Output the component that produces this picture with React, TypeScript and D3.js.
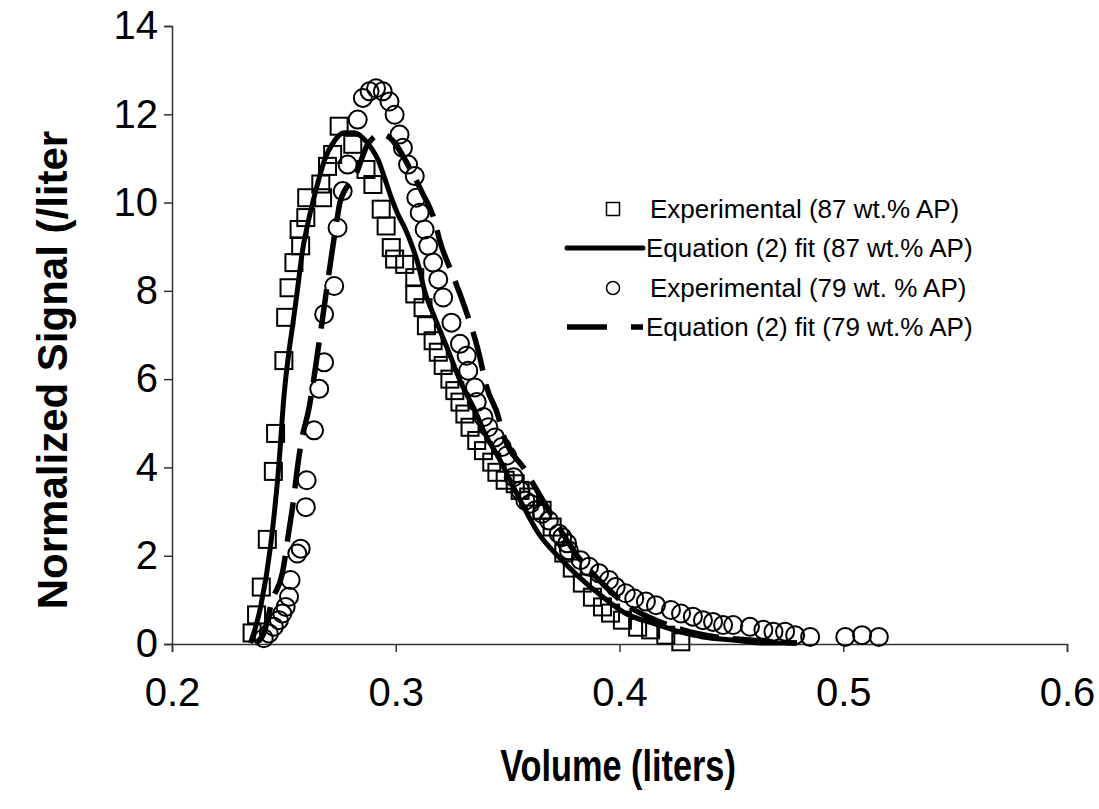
import React, { useEffect, useRef } from "react";
import * as d3 from "d3";

// Experimental (87 wt.% AP) - squares
const exp87: [number, number][] = [
  [0.2358, 0.25], [0.2378, 0.66], [0.2399, 1.29], [0.2426, 2.37], [0.2453, 3.91],
  [0.2463, 4.77], [0.25, 6.42], [0.2508, 7.4], [0.2523, 8.07], [0.2545, 8.64],
  [0.2568, 9.39], [0.2575, 9.02], [0.2598, 9.66], [0.2602, 10.11], [0.2665, 10.42],
  [0.2673, 10.11], [0.2695, 10.82], [0.2718, 11.09], [0.2747, 11.73], [0.2808, 11.32],
  [0.2867, 10.75], [0.2898, 10.41], [0.2935, 9.85], [0.2957, 9.47], [0.298, 8.98],
  [0.2995, 8.72], [0.304, 8.6], [0.3085, 8.3], [0.3085, 7.93], [0.3122, 7.62],
  [0.3137, 7.21], [0.3167, 6.87], [0.319, 6.61], [0.3212, 6.31], [0.3242, 6.0],
  [0.3264, 5.74], [0.3287, 5.48], [0.3309, 5.21], [0.3332, 4.91], [0.3362, 4.61],
  [0.3392, 4.38], [0.3429, 4.12], [0.3452, 3.89], [0.3489, 3.71], [0.3534, 3.63],
  [0.3556, 3.48], [0.3594, 3.33], [0.3654, 3.03], [0.3699, 2.65], [0.3751, 2.06],
  [0.3789, 1.72], [0.3834, 1.38], [0.3879, 1.06], [0.3924, 0.84], [0.396, 0.7],
  [0.4013, 0.54], [0.4081, 0.38], [0.4139, 0.32], [0.4207, 0.2], [0.4274, 0.05],
];

// Equation (2) fit (87 wt.% AP) - solid line
const fit87: [number, number][] = [
  [0.2351, 0.02], [0.2396, 0.84], [0.244, 2.2], [0.2478, 4.08], [0.25, 5.59],
  [0.2523, 6.64], [0.2538, 7.17], [0.256, 8.0], [0.2583, 8.9], [0.2613, 9.66],
  [0.265, 10.41], [0.268, 10.94], [0.2725, 11.39], [0.277, 11.58], [0.2815, 11.58],
  [0.286, 11.43], [0.289, 11.24], [0.292, 10.98], [0.295, 10.56], [0.298, 10.11],
  [0.301, 9.73], [0.304, 9.43], [0.307, 9.06], [0.31, 8.6], [0.3129, 8.0],
  [0.3174, 7.4], [0.3235, 6.64], [0.3294, 5.89], [0.3354, 5.29], [0.3399, 4.76],
  [0.3459, 4.23], [0.3511, 3.71], [0.3564, 3.18], [0.3639, 2.5], [0.3729, 1.97],
  [0.3819, 1.52], [0.3924, 1.07], [0.4028, 0.69], [0.4148, 0.47], [0.4268, 0.28],
  [0.4373, 0.16], [0.4508, 0.09], [0.4658, 0.02], [0.4793, 0.02],
];

// Experimental (79 wt. % AP) - circles
const exp79: [number, number][] = [
  [0.241, 0.13], [0.2433, 0.24], [0.2455, 0.39], [0.2478, 0.54], [0.2493, 0.69],
  [0.2508, 0.84], [0.2523, 1.07], [0.253, 1.45], [0.256, 2.05], [0.2575, 2.16],
  [0.2598, 3.1], [0.2602, 3.71], [0.2635, 4.84], [0.2658, 5.78], [0.268, 6.38],
  [0.268, 7.47], [0.2725, 8.11], [0.274, 9.43], [0.2763, 10.26], [0.2785, 10.86],
  [0.283, 11.88], [0.2853, 12.37], [0.2883, 12.52], [0.2912, 12.59], [0.2942, 12.52],
  [0.2972, 12.29], [0.2995, 11.99], [0.3017, 11.54], [0.3032, 11.24], [0.3055, 10.86],
  [0.3085, 10.6], [0.3092, 10.11], [0.3107, 9.77], [0.3129, 9.39], [0.3145, 9.02],
  [0.3167, 8.64], [0.319, 8.26], [0.3212, 7.85], [0.3249, 7.28], [0.3287, 6.8],
  [0.3317, 6.53], [0.3324, 6.19], [0.3354, 5.81], [0.3362, 5.48], [0.3392, 5.14],
  [0.3414, 4.91], [0.3444, 4.68], [0.3474, 4.46], [0.3497, 4.27], [0.3527, 3.78],
  [0.3557, 3.48], [0.3579, 3.25], [0.3601, 3.18], [0.3624, 3.03], [0.3654, 2.95],
  [0.3684, 2.8], [0.3729, 2.5], [0.3744, 2.42], [0.3766, 2.28], [0.3774, 2.12],
  [0.3826, 1.9], [0.3864, 1.75], [0.3909, 1.6], [0.3953, 1.45], [0.3983, 1.29],
  [0.4028, 1.15], [0.4066, 1.03], [0.4118, 0.96], [0.4163, 0.88], [0.423, 0.77],
  [0.4275, 0.69], [0.4328, 0.62], [0.4373, 0.54], [0.4418, 0.5], [0.4463, 0.43],
  [0.4508, 0.43], [0.4583, 0.39], [0.4643, 0.32], [0.4688, 0.28], [0.474, 0.28],
  [0.4785, 0.2], [0.4852, 0.16], [0.5009, 0.16], [0.5084, 0.2], [0.5159, 0.16],
];

// Equation (2) fit (79 wt.% AP) - dashed line
const fit79: [number, number][] = [
  [0.2373, 0.02], [0.241, 0.24], [0.2448, 0.99], [0.2493, 1.6], [0.2523, 2.58],
  [0.2538, 3.07], [0.256, 3.97], [0.2575, 4.5], [0.2613, 5.36], [0.2665, 7.1],
  [0.2733, 9.47], [0.2752, 10.03], [0.2822, 10.64], [0.2875, 11.32], [0.2935, 11.55],
  [0.2965, 11.5], [0.307, 10.71], [0.3115, 10.26], [0.3174, 9.58], [0.3197, 9.13],
  [0.3253, 8.38], [0.3309, 7.62], [0.3369, 6.64], [0.3407, 5.81], [0.3459, 5.14],
  [0.3474, 4.84], [0.3579, 3.93], [0.3684, 3.03], [0.3804, 2.05], [0.3924, 1.37],
  [0.4044, 0.84], [0.4163, 0.54], [0.4283, 0.32], [0.4433, 0.16], [0.4583, 0.09],
  [0.4733, 0.03], [0.4793, 0.02],
];

const xTicks = [0.2, 0.3, 0.4, 0.5, 0.6];
const yTicks = [0, 2, 4, 6, 8, 10, 12, 14];
const legendLabels = [
  "Experimental (87 wt.% AP)",
  "Equation (2) fit (87 wt.% AP)",
  "Experimental (79 wt. % AP)",
  "Equation (2) fit (79 wt.% AP)",
];

const W = 1099;
const H = 809;
const FONT = "Arial, 'Liberation Sans', Helvetica, sans-serif";

export default function App() {
  const ref = useRef<SVGSVGElement>(null);

  useEffect(() => {
    const svg = d3.select(ref.current);
    svg.selectAll("*").remove();

    const x = d3.scaleLinear().domain([0.2, 0.6]).range([172, 1067]);
    const y = d3.scaleLinear().domain([0, 14]).range([644, 26]);

    // axes
    const axisColor = "#333";
    const yAxis = svg.append("g").attr("transform", "translate(172,0)")
      .call(d3.axisLeft(y).tickValues(yTicks).tickSize(8).tickPadding(6).tickFormat(d3.format("d")));
    const xAxis = svg.append("g").attr("transform", "translate(0,644)")
      .call(d3.axisBottom(x).tickValues(xTicks).tickSize(8).tickPadding(26).tickFormat(d3.format(".1f")));
    [xAxis, yAxis].forEach((g) => {
      g.select(".domain").attr("stroke", axisColor).attr("stroke-width", 1.5);
      g.selectAll(".tick line").attr("stroke", axisColor).attr("stroke-width", 1.5);
      g.selectAll(".tick text").attr("fill", "#000").attr("font-family", FONT).attr("font-size", 40);
    });
    xAxis.selectAll(".tick text").attr("dy", "0.71em");

    const plot = svg.append("g");

    // squares
    const s = 17;
    plot.append("g").selectAll("rect").data(exp87).enter().append("rect")
      .attr("x", (d) => x(d[0]) - s / 2)
      .attr("y", (d) => y(d[1]) - s / 2)
      .attr("width", s).attr("height", s)
      .attr("fill", "none").attr("stroke", "#000").attr("stroke-width", 2);

    const line = d3.line<[number, number]>()
      .x((d) => x(d[0])).y((d) => y(d[1]))
      .curve(d3.curveMonotoneX);

    plot.append("path").datum(fit87).attr("d", line)
      .attr("fill", "none").attr("stroke", "#000").attr("stroke-width", 5)
      .attr("stroke-linejoin", "round");

    // circles
    plot.append("g").selectAll("circle").data(exp79).enter().append("circle")
      .attr("cx", (d) => x(d[0])).attr("cy", (d) => y(d[1])).attr("r", 9)
      .attr("fill", "none").attr("stroke", "#000").attr("stroke-width", 2);

    plot.append("path").datum(fit79).attr("d", line)
      .attr("fill", "none").attr("stroke", "#000").attr("stroke-width", 5.5)
      .attr("stroke-dasharray", "40,14");

    // legend
    const lg = svg.append("g");
    const rowY = [209, 248, 288, 327];
    const mx = 613;
    lg.append("rect").attr("x", mx - 6.5).attr("y", rowY[0] - 6.5).attr("width", 13).attr("height", 13)
      .attr("fill", "none").attr("stroke", "#000").attr("stroke-width", 1.5);
    lg.append("line").attr("x1", 567).attr("x2", 643).attr("y1", rowY[1]).attr("y2", rowY[1])
      .attr("stroke", "#000").attr("stroke-width", 5).attr("stroke-linecap", "round");
    lg.append("circle").attr("cx", mx).attr("cy", rowY[2]).attr("r", 6.5)
      .attr("fill", "none").attr("stroke", "#000").attr("stroke-width", 1.5);
    lg.append("line").attr("x1", 567).attr("x2", 643).attr("y1", rowY[3]).attr("y2", rowY[3])
      .attr("stroke", "#000").attr("stroke-width", 5.5).attr("stroke-dasharray", "40,24");
    legendLabels.forEach((t, i) => {
      lg.append("text").attr("x", i % 2 === 1 ? 646 : 650).attr("y", rowY[i])
        .attr("dy", "0.35em").attr("font-family", FONT).attr("font-size", 26)
        .text(t);
    });

    // axis titles
    svg.append("text")
      .attr("transform", "translate(618,766) scale(0.78,1)")
      .attr("text-anchor", "middle").attr("dy", "0.35em")
      .attr("font-family", FONT).attr("font-weight", "bold").attr("font-size", 44)
      .text("Volume (liters)");
    svg.append("text")
      .attr("transform", "translate(52,370) rotate(-90)")
      .attr("text-anchor", "middle").attr("dy", "0.35em")
      .attr("font-family", FONT).attr("font-weight", "bold").attr("font-size", 42)
      .text("Normalized Signal (/liter");
  }, []);

  return (
    <svg ref={ref} width={W} height={H}
      style={{ position: "absolute", left: 0, top: 0, background: "#fff" }} />
  );
}
